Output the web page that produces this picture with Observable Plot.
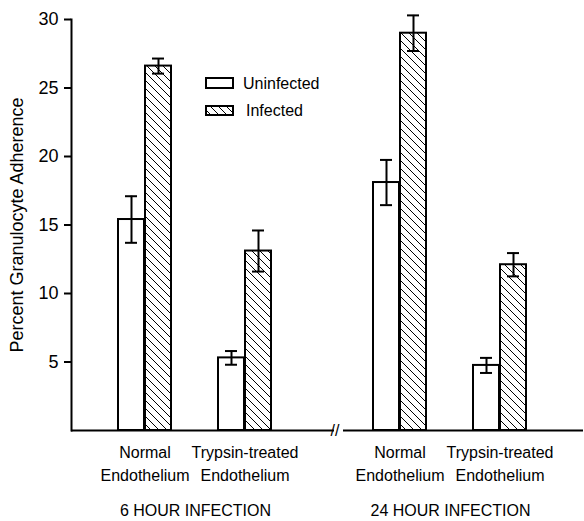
<!DOCTYPE html>
<html><head><meta charset="utf-8">
<script src="https://cdn.jsdelivr.net/npm/d3@7"></script>
<script src="https://cdn.jsdelivr.net/npm/@observablehq/plot@0.6"></script>
<style>
body{margin:0;background:#fff}
#chart{position:relative;width:584px;height:521px}
#chart svg{font-family:"Liberation Sans",Arial,sans-serif}
</style>
</head><body><div id="chart"></div>
<script>
const times = ["6 HOUR INFECTION", "24 HOUR INFECTION"];
const endothelia = ["Normal\nEndothelium", "Trypsin-treated\nEndothelium"];
const seriesNames = ["Uninfected", "Infected"];
const groupTime = [times[0], times[0], times[1], times[1]];
const groupEndo = [endothelia[0], endothelia[1], endothelia[0], endothelia[1]];
const uninfectedMean = [15.4, 5.3, 18.1, 4.75];
const uninfectedErr = [1.7, 0.5, 1.65, 0.55];
const infectedMean = [26.6, 13.1, 29.0, 12.1];
const infectedErr = [0.55, 1.5, 1.3, 0.85];
const yTicks = [5, 10, 15, 20, 25, 30];
const yLabel = "Percent Granulocyte Adherence";

const uninf = groupTime.map((t, i) => ({time: t, endo: groupEndo[i], series: seriesNames[0],
  value: uninfectedMean[i], lo: uninfectedMean[i] - uninfectedErr[i], hi: uninfectedMean[i] + uninfectedErr[i]}));
const inf = groupTime.map((t, i) => ({time: t, endo: groupEndo[i], series: seriesNames[1],
  value: infectedMean[i], lo: infectedMean[i] - infectedErr[i], hi: infectedMean[i] + infectedErr[i]}));

const common = {fx: "time", x: "endo"};
const svg = Plot.plot({
  width: 584, height: 521,
  marginLeft: 70, marginRight: 9, marginTop: 19, marginBottom: 91,
  style: {fontSize: "16px", fontFamily: "Liberation Sans, Arial, sans-serif", background: "white", color: "black"},
  fx: {domain: times, paddingInner: 0.027, paddingOuter: 0, axis: null},
  x: {domain: endothelia, padding: 0.465, axis: null},
  y: {domain: [0, 30], axis: null},
  color: {domain: seriesNames, range: ["white", "url(#hatch)"]},
  marks: [
    Plot.barY(uninf, {...common, y: "value", fill: "series", stroke: "black", strokeWidth: 2, insetRight: 27}),
    Plot.barY(inf, {...common, y: "value", fill: "series", stroke: "black", strokeWidth: 2, insetLeft: 27}),
    Plot.ruleX(uninf, {...common, y1: "lo", y2: "hi", dx: -13.5, strokeWidth: 2}),
    Plot.ruleX(inf, {...common, y1: "lo", y2: "hi", dx: 13.5, strokeWidth: 2}),
    Plot.tickY(uninf, {...common, y: "hi", insetLeft: 7, insetRight: 34, strokeWidth: 2}),
    Plot.tickY(uninf, {...common, y: "lo", insetLeft: 7, insetRight: 34, strokeWidth: 2}),
    Plot.tickY(inf, {...common, y: "hi", insetLeft: 34, insetRight: 7, strokeWidth: 2}),
    Plot.tickY(inf, {...common, y: "lo", insetLeft: 34, insetRight: 7, strokeWidth: 2}),
    Plot.ruleY([{time: times[0], v: 0}], {fx: "time", y: "v", strokeWidth: 2, insetRight: -15}),
    Plot.ruleY([{time: times[1], v: 0}], {fx: "time", y: "v", strokeWidth: 2, insetLeft: 17, insetRight: -9}),
    Plot.text([times[0]], {fx: d => d, text: () => "//", frameAnchor: "bottom-right", dx: 20, fontSize: 16, lineAnchor: "middle"}),
    Plot.frame({anchor: "left", facet: "super", strokeWidth: 2}),
    Plot.axisY({ticks: yTicks, tickSize: 7, tickPadding: 6, strokeWidth: 2, fontSize: 18,
      label: yLabel, labelAnchor: "center", labelArrow: "none", labelOffset: 61}),
    Plot.axisX({fontSize: 16, tickSize: 0, tickPadding: 11, lineHeight: 1.45, label: null}),
    Plot.axisFx({anchor: "bottom", fontSize: 16, tickSize: 0, tickPadding: 74, label: null})
  ]
});

const s = d3.select(svg);
s.insert("defs", ":first-child").html(
  '<pattern id="hatch" patternUnits="userSpaceOnUse" width="8" height="8">' +
  '<rect width="8" height="8" fill="white"/>' +
  '<path d="M0,0L8,8M-2,6L2,10M6,-2L10,2" stroke="black" stroke-width="1"/></pattern>');

const leg = s.append("g").attr("font-size", 16).attr("text-anchor", "start");
const legendRows = [{name: seriesNames[0], fill: "white", y: 78, h: 10, tx: 243},
                    {name: seriesNames[1], fill: "url(#hatch)", y: 106, h: 9, tx: 246}];
legendRows.forEach(r => {
  leg.append("rect").attr("x", 206).attr("y", r.y).attr("width", 27).attr("height", r.h)
    .attr("fill", r.fill).attr("stroke", "black").attr("stroke-width", 2);
  leg.append("text").attr("x", r.tx).attr("y", r.y + r.h / 2).attr("dy", "0.35em")
    .attr("text-anchor", "start").attr("fill", "black").text(r.name);
});

document.getElementById("chart").appendChild(svg);
</script>
</body></html>
